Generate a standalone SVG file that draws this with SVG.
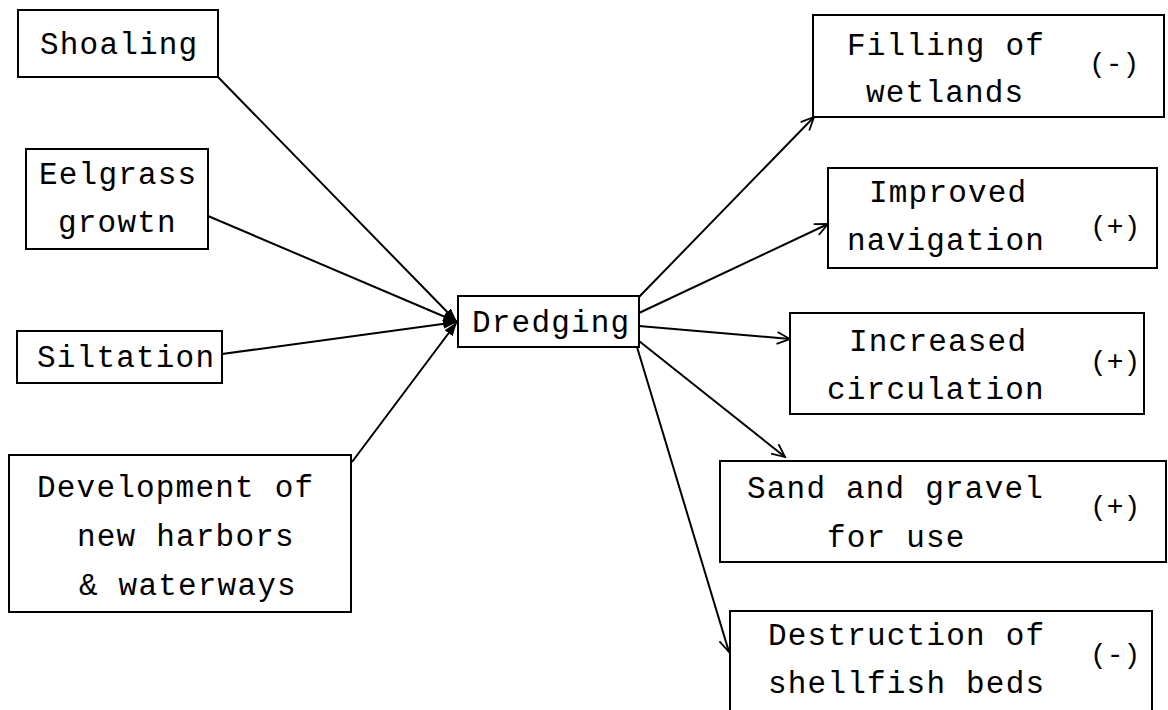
<svg xmlns="http://www.w3.org/2000/svg" width="1168" height="710" viewBox="0 0 1168 710">
<defs>
<style>
.box{fill:#fff;stroke:#000;stroke-width:2}
.t{font-family:"Liberation Mono","Courier New",monospace;font-size:31px;letter-spacing:1.2px;fill:#000}
.s{font-family:"Liberation Mono","Courier New",monospace;font-size:28px;fill:#000}
.c{stroke:#000;stroke-width:2;fill:none}
</style>
<marker id="open" markerUnits="userSpaceOnUse" markerWidth="20" markerHeight="20" refX="14" refY="7" orient="auto">
<path d="M1,1 L14,7 L1,13" fill="none" stroke="#000" stroke-width="1.8"/>
</marker>
<marker id="solid" markerUnits="userSpaceOnUse" markerWidth="20" markerHeight="20" refX="14" refY="6" orient="auto">
<path d="M0,1 L14,6 L0,11 Z" fill="#000"/>
</marker>
</defs>
<rect width="1168" height="710" fill="#fff"/>
<g id="connectors">
<line class="c" x1="218" y1="77" x2="457" y2="322" marker-end="url(#solid)"/>
<line class="c" x1="208" y1="216" x2="457" y2="322" marker-end="url(#solid)"/>
<line class="c" x1="222" y1="354" x2="457" y2="322" marker-end="url(#solid)"/>
<line class="c" x1="352" y1="462" x2="457" y2="322" marker-end="url(#solid)"/>
<line class="c" x1="639" y1="297" x2="814" y2="117" marker-end="url(#open)"/>
<line class="c" x1="639" y1="313" x2="828" y2="224" marker-end="url(#open)"/>
<line class="c" x1="639" y1="326" x2="790" y2="339" marker-end="url(#open)"/>
<line class="c" x1="639" y1="341" x2="785" y2="457" marker-end="url(#open)"/>
<line class="c" x1="637" y1="347" x2="729" y2="652" marker-end="url(#open)"/>
</g>
<g id="shoaling">
<rect class="box" x="18" y="10" width="200" height="67"/>
<text class="t" x="40" y="54">Shoaling</text>
</g>
<g id="eelgrass">
<rect class="box" x="26" y="149" width="182" height="100"/>
<text class="t" x="39" y="184">Eelgrass</text>
<text class="t" x="58" y="232">growtn</text>
</g>
<g id="siltation">
<rect class="box" x="17" y="331" width="205" height="52"/>
<text class="t" x="37" y="367">Siltation</text>
</g>
<g id="development">
<rect class="box" x="9" y="455" width="342" height="157"/>
<text class="t" x="37" y="497">Development of</text>
<text class="t" x="77" y="546">new harbors</text>
<text class="t" x="79" y="595">&amp; waterways</text>
</g>
<g id="dredging">
<rect class="box" x="458" y="296" width="181" height="51"/>
<text class="t" x="472" y="332">Dredging</text>
</g>
<g id="filling">
<rect class="box" x="813" y="15" width="351" height="102"/>
<text class="t" x="847" y="55">Filling of</text>
<text class="t" x="866" y="102">wetlands</text>
<text class="s" x="1089" y="72">(-)</text>
</g>
<g id="navigation">
<rect class="box" x="828" y="168" width="329" height="100"/>
<text class="t" x="869" y="202">Improved</text>
<text class="t" x="847" y="250">navigation</text>
<text class="s" x="1090" y="235">(+)</text>
</g>
<g id="circulation">
<rect class="box" x="790" y="313" width="354" height="101"/>
<text class="t" x="849" y="351">Increased</text>
<text class="t" x="827" y="399">circulation</text>
<text class="s" x="1090" y="370">(+)</text>
</g>
<g id="sand">
<rect class="box" x="720" y="461" width="446" height="101"/>
<text class="t" x="747" y="498">Sand and gravel</text>
<text class="t" x="827" y="547">for use</text>
<text class="s" x="1090" y="515">(+)</text>
</g>
<g id="destruction">
<rect class="box" x="730" y="611" width="422" height="120"/>
<text class="t" x="768" y="645">Destruction of</text>
<text class="t" x="768" y="693">shellfish beds</text>
<text class="s" x="1090" y="663">(-)</text>
</g>
</svg>
